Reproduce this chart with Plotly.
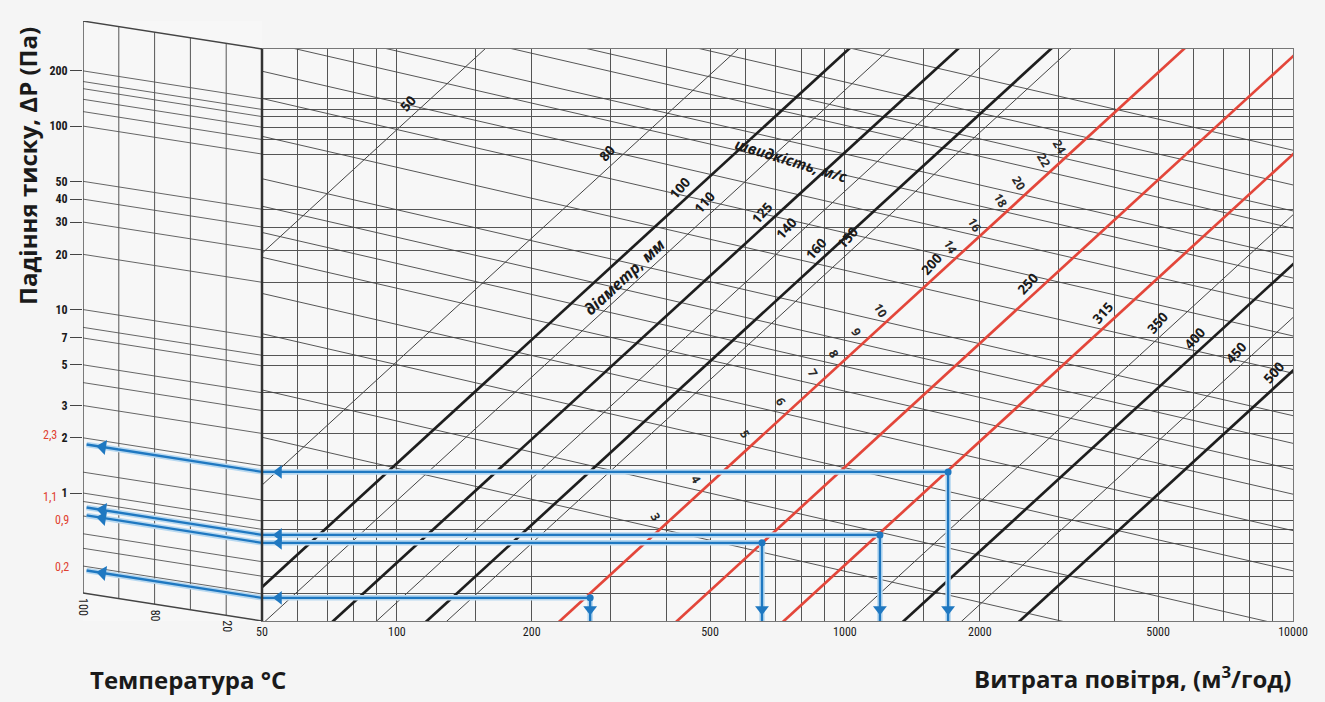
import math
import plotly.graph_objects as go

L = math.log10

# ---------------- data ----------------
# Air flow axis, m3/h
flow_ticks = [50, 100, 200, 500, 1000, 2000, 5000, 10000]
flow_grid = [60, 70, 80, 90, 150, 300, 400, 600, 700, 800, 900, 1500, 3000, 4000,
             6000, 7000, 8000, 9000]

# Pressure-drop scale, Pa/m
dp_labels = [200, 100, 50, 40, 30, 20, 10, 7, 5, 3, 2, 1]
dp_grid = [175, 160, 140, 120, 8, 4, 1.3, 0.9, 0.75, 0.6, 0.5, 0.4]
DP_MIN, DP_MAX = 0.285, 374

# Duct diameters, mm: air flow at 0.25 Pa/m and at 400 Pa/m
diameters = [50, 80, 100, 110, 125, 140, 150, 160, 200, 250, 315, 350, 400, 450, 500]
diam_flow_lo = [6, 22, 39, 48, 68, 85, 122, 110, 218, 398, 689, 967, 1276, 1720, 2316]
diam_flow_hi = [162, 595, 1051, 1298, 1841, 2284, 3290, 2968, 5881, 10730, 18594,
                26106, 34449, 46420, 62535]
diam_label_dp = [174, 93, 60, 50, 44, 36, 32, 28, 23, 18, 12.5, 11, 9.1, 7.5, 5.9]
DIAM_DP_LO, DIAM_DP_HI = 0.25, 400

# Air velocity, m/s: pressure drop at 50 m3/h and at 10000 m3/h
velocities = [3, 4, 5, 6, 7, 8, 9, 10, 12, 14, 16, 18, 20, 22, 24, 28, 32]
vel_dp_q50 = [2.86, 5.18, 10.5, 17.4, 27.4, 37.4, 52.0, 73.4, 125, 201, 283, 413,
              538, 772, 960, 1327, 2077]
vel_dp_q10000 = [0.146, 0.263, 0.535, 0.886, 1.40, 1.91, 2.65, 3.75, 6.39, 10.2,
                 14.4, 21.1, 27.5, 39.4, 49.0, 67.9, 105]
vel_labelled = [3, 4, 5, 6, 7, 8, 9, 10, 14, 16, 18, 20, 22, 24]

# Worked examples: air flow, pressure drop and corrected reading
ex_flow = [270, 653, 1197, 1699]
ex_dp = [0.381, 0.760, 0.840, 1.852]
ex_reading = ["0,2", "0,9", "1,1", "2,3"]

# Temperature correction panel
temp_labels = ["100", "80", "20"]
temp_cols = [0, 2, 4]
N_COLS = 5
SKEW = 1.42          # ratio of the scale between outer and inner edge of the panel

# ---------------- page geometry / styles ----------------
W, H = 1325, 702
MAIN_LEFT, MAIN_RIGHT, MAIN_TOP, MAIN_BOTTOM = 262, 1293, 49, 621
AUX_LEFT, AUX_TOP = 83, 21

GRID = "#555555"
LINE = "#444444"
BLACK = "#1e1e1e"
RED = "#e3463a"
BLUE = "#1f78c1"
HALO = "#b7d8f0"
TXT = "#1a1a1a"
NARROW = "Liberation Sans Narrow, Roboto Condensed, Roboto, sans-serif"
SANS = "Open Sans, Noto Sans, sans-serif"
THICK_BLACK = {100, 125, 160, 400, 500}
THICK_RED = {200, 250, 315}


def xdom(a, b):
    return [a / W, b / W]


def ydom(top, bottom):
    return [1 - bottom / H, 1 - top / H]


fig = go.Figure()


def add_segments(segs, panel, color, width):
    xs, ys = [], []
    for x0, y0, x1, y1 in segs:
        xs += [x0, x1, None]
        ys += [y0, y1, None]
    fig.add_trace(go.Scatter(
        x=xs, y=ys, mode="lines", line=dict(color=color, width=width),
        xaxis="x" if panel == "main" else "x2",
        yaxis="y" if panel == "main" else "y2",
        hoverinfo="skip", showlegend=False))


# ---- temperature correction panel ----
dp_lines = sorted(set(dp_labels + dp_grid))
add_segments([(0, g, 1, g / SKEW) for g in dp_lines], "aux", GRID, 0.9)
cols = []
for c in range(1, N_COLS):
    f = SKEW ** (-c / N_COLS)
    cols.append((c / N_COLS, DP_MIN * f, c / N_COLS, DP_MAX * f))
add_segments(cols, "aux", GRID, 1.0)
add_segments([(0, DP_MAX, 1, DP_MAX / SKEW), (0, DP_MIN, 1, DP_MIN / SKEW),
              (0, DP_MIN, 0, DP_MAX)], "aux", "#444", 1.4)

# ---- velocity lines ----
add_segments([(50, a, 10000, b) for a, b in zip(vel_dp_q50, vel_dp_q10000)],
             "main", LINE, 0.9)

# ---- diameter lines ----
thin, black, red = [], [], []
for d, qa, qb in zip(diameters, diam_flow_lo, diam_flow_hi):
    seg = (qa, DIAM_DP_LO, qb, DIAM_DP_HI)
    (black if d in THICK_BLACK else red if d in THICK_RED else thin).append(seg)
add_segments(thin, "main", LINE, 1.0)
add_segments(black, "main", BLACK, 2.7)
add_segments(red, "main", RED, 2.7)

# ---- worked examples ----
main_arrows, aux_arrows = [], []
for q, p in zip(ex_flow, ex_dp):
    main_arrows += [(q, p, 50, p), (q, p, q, DP_MIN)]
    aux_arrows.append((1, p / SKEW, 0.02, p * SKEW ** -0.02))
add_segments(main_arrows, "main", HALO, 5.5)
add_segments(aux_arrows, "aux", HALO, 5.5)
add_segments(main_arrows, "main", BLUE, 2.3)
add_segments(aux_arrows, "aux", BLUE, 2.3)

fig.add_trace(go.Scatter(x=ex_flow, y=ex_dp, mode="markers", cliponaxis=False,
                         marker=dict(symbol="circle", size=7, color=BLUE),
                         hoverinfo="skip", showlegend=False))
fig.add_trace(go.Scatter(x=[50 * 1.09] * len(ex_dp), y=ex_dp, mode="markers",
                         cliponaxis=False,
                         marker=dict(symbol="triangle-left", size=12, color=BLUE),
                         hoverinfo="skip", showlegend=False))
fig.add_trace(go.Scatter(x=ex_flow, y=[DP_MIN * 1.16] * len(ex_flow), mode="markers",
                         cliponaxis=False,
                         marker=dict(symbol="triangle-down", size=12, color=BLUE),
                         hoverinfo="skip", showlegend=False))
fig.add_trace(go.Scatter(x=[0.11] * len(ex_dp), y=[p * SKEW ** -0.11 for p in ex_dp],
                         mode="markers", cliponaxis=False, xaxis="x2", yaxis="y2",
                         marker=dict(symbol="triangle-left", size=13, color=BLUE, angle=9),
                         hoverinfo="skip", showlegend=False))

# ---------------- annotations ----------------
ann = []


def flow_on_diam(i, dp):
    a, b = L(diam_flow_lo[i]), L(diam_flow_hi[i])
    t = (L(dp) - L(DIAM_DP_LO)) / (L(DIAM_DP_HI) - L(DIAM_DP_LO))
    return a + t * (b - a)


for i, d in enumerate(diameters):
    ann.append(dict(x=flow_on_diam(i, diam_label_dp[i]), y=L(diam_label_dp[i]),
                    xref="x", yref="y", text=f"<b>{d}</b>", showarrow=False,
                    textangle=-48, xshift=-10, yshift=7,
                    font=dict(family=SANS, size=13.5, color=TXT)))

# velocity labels sit where each velocity line crosses the 200 mm line
i200 = diameters.index(200)
bq0, bp0 = L(diam_flow_lo[i200]), L(DIAM_DP_LO)
bq1, bp1 = L(diam_flow_hi[i200]), L(DIAM_DP_HI)
mb = (bp1 - bp0) / (bq1 - bq0)
for v, pa, pb in zip(velocities, vel_dp_q50, vel_dp_q10000):
    if v not in vel_labelled:
        continue
    aq0, ap0, aq1, ap1 = L(50), L(pa), L(10000), L(pb)
    ma = (ap1 - ap0) / (aq1 - aq0)
    xq = (bp0 - ap0 + ma * aq0 - mb * bq0) / (ma - mb)
    yp = ap0 + ma * (xq - aq0)
    ann.append(dict(x=xq, y=yp, xref="x", yref="y", text=f"<b>{v}</b>",
                    showarrow=False, textangle=60, xshift=-5, yshift=12,
                    font=dict(family=SANS, size=12, color="#2a2a2a")))

i100 = diameters.index(100)
ann.append(dict(x=flow_on_diam(i100, 21.9), y=L(21.9), xref="x", yref="y",
                text="<b><i>діаметр, мм</i></b>", showarrow=False, textangle=-43,
                xshift=22, yshift=-2, font=dict(family=SANS, size=16, color=TXT)))
ann.append(dict(x=L(758), y=L(93), xref="x", yref="y",
                text="<b><i>швидкість, м/с</i></b>", showarrow=False, textangle=17,
                font=dict(family=SANS, size=15, color=TXT)))

# corrected readings, next to the outer ends of the example arrows
red_shift = [(-12, 3), (-12, -5), (-24, 10), (-24, 9)]
for p, txt, (sx, sy) in zip(ex_dp, ex_reading, red_shift):
    ann.append(dict(x=0, y=L(p), xref="x2", yref="y2", text=txt, showarrow=False,
                    xanchor="right", xshift=sx, yshift=sy,
                    font=dict(family=NARROW, size=12, color="#e0402f")))

# temperature scale
for t, c in zip(temp_labels, temp_cols):
    ann.append(dict(x=c / N_COLS, y=L(DP_MIN * SKEW ** (-c / N_COLS)), xref="x2",
                    yref="y2", text=t, showarrow=False, textangle=90,
                    yanchor="top", yshift=-3,
                    font=dict(family=NARROW, size=12, color=TXT)))

# titles
TITLE = dict(family=SANS, size=24, color=TXT)
ann.append(dict(x=28 / W, y=1 - 166 / H, xref="paper", yref="paper",
                xanchor="center", yanchor="middle",
                text="<b>Падіння тиску, ΔP (Па)</b>", showarrow=False, textangle=-90,
                font=TITLE))
ann.append(dict(x=188 / W, y=1 - 679 / H, xref="paper", yref="paper",
                xanchor="center", yanchor="middle",
                text="<b>Температура °C</b>", showarrow=False, font=TITLE))
ann.append(dict(x=1293 / W, y=1 - 677 / H, xref="paper", yref="paper",
                xanchor="right", yanchor="middle",
                text="<b>Витрата повітря, (м<sup>3</sup>/год)</b>", showarrow=False,
                font=TITLE))

# ---------------- layout ----------------
fig.update_layout(
    width=W, height=H, margin=dict(l=0, r=0, t=0, b=0),
    template="none", showlegend=False,
    paper_bgcolor="#f5f5f5", plot_bgcolor="#f7f7f7",
    annotations=ann,
    xaxis=dict(type="log", range=[L(50), L(10000)],
               domain=xdom(MAIN_LEFT, MAIN_RIGHT), anchor="y",
               tickvals=flow_ticks, ticktext=[str(v) for v in flow_ticks],
               ticks="", showgrid=True, gridcolor=GRID, gridwidth=1,
               minor=dict(tickvals=flow_grid, showgrid=True, gridcolor=GRID,
                          gridwidth=1, ticks=""),
               showline=True, mirror=True, linecolor="#777", linewidth=1,
               zeroline=False, automargin=False,
               tickfont=dict(family=NARROW, size=12, color=TXT)),
    yaxis=dict(type="log", range=[L(DP_MIN), L(DP_MAX)],
               domain=ydom(MAIN_TOP, MAIN_BOTTOM), anchor="x",
               tickvals=dp_lines, showticklabels=False, ticks="",
               showgrid=True, gridcolor=GRID, gridwidth=1,
               showline=True, mirror=True, linecolor="#777", linewidth=1,
               zeroline=False, automargin=False),
    xaxis2=dict(range=[0, 1], domain=xdom(AUX_LEFT, MAIN_LEFT), anchor="y2",
                visible=False),
    yaxis2=dict(type="log", range=[L(DP_MIN / SKEW), L(DP_MAX)],
                domain=ydom(AUX_TOP, MAIN_BOTTOM), anchor="x2",
                tickvals=dp_labels, ticktext=[str(v) for v in dp_labels],
                ticks="outside", ticklen=12, tickwidth=1, tickcolor="#444",
                showgrid=False, showline=False, zeroline=False, automargin=False,
                tickfont=dict(family=NARROW, size=12, color=TXT, weight="bold")),
    shapes=[dict(type="line", xref="x domain", yref="y domain", x0=0, x1=0, y0=0, y1=1,
                 line=dict(color="#333", width=2.5))],
)

fig.write_html("out.html")
